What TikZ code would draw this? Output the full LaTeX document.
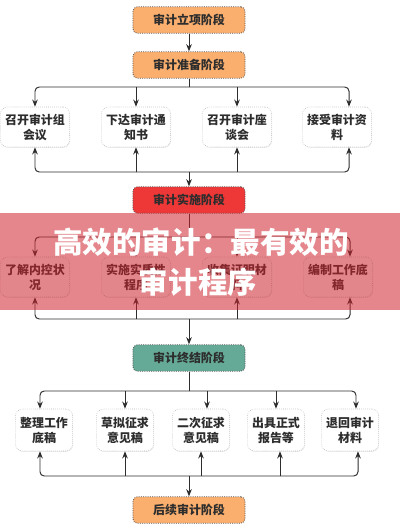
\documentclass[tikz,border=0pt]{standalone}
\usepackage{fontspec}
\newfontfamily\cjk{Noto Sans CJK SC}
\usetikzlibrary{arrows.meta,positioning,shadows,calc}
\definecolor{peach}{RGB}{250,175,110}
\definecolor{scarlet}{RGB}{238,55,55}
\definecolor{jade}{RGB}{100,170,150}
\definecolor{ink}{RGB}{45,45,45}
\definecolor{rose}{RGB}{205,35,45}
\tikzset{
  >={Stealth[length=1.8mm,width=1.4mm]},
  stage/.style={draw=ink!80,densely dotted,fill=#1,rounded corners=3pt,line width=0.6pt,
    minimum width=2.8cm,minimum height=0.66cm,text=ink,
    font=\cjk\bfseries\fontsize{8.5}{10}\selectfont},
  stage/.default=peach,
  item/.style={draw=gray!60,densely dotted,fill=white,rounded corners=5pt,
    minimum width=#1,minimum height=1cm,align=center,text=ink,
    font=\cjk\bfseries\fontsize{8.5}{10.7}\selectfont,
    drop shadow={opacity=0.15,shadow xshift=0.4pt,shadow yshift=-0.6pt}},
  item/.default=1.65cm,
  flow/.style={->,draw=ink,line width=0.7pt},
  bus/.style={draw=ink,line width=0.7pt,rounded corners=3pt},
  headline/.style={text=white,font=\cjk\bfseries\fontsize{21}{24}\selectfont},
}

\begin{document}
\begin{tikzpicture}[x=0.025cm,y=-0.025cm]
  \useasboundingbox (0,0) rectangle (400,525);
  \node[stage] (lx) at (189,20) {审计立项阶段};
  \node[stage] (zb) at (189,65) {审计准备阶段};
  \node[stage=scarlet] (ss) at (189,200) {审计实施阶段};
  \node[stage=jade] (zj) at (189,358) {审计终结阶段};
  \node[stage] (hx) at (189,510) {后续审计阶段};
  % preparation
  \node[item] (p1) at (35,127) {召开审计组\\会议};
  \node[item] (p2) at (136,127) {下达审计通\\知书};
  \node[item] (p3) at (237,127) {召开审计座\\谈会};
  \node[item] (p4) at (337,127) {接受审计资\\料};
  \coordinate (pin) at (189,87);
  \coordinate (pout) at (189,172);
  \draw[flow] (lx) -- (zb);
  \draw[bus] (zb) -- (pin);
  \draw[flow,rounded corners=3pt] (pin) -| (p1.north);
  \draw[flow,rounded corners=3pt] (pin) -| ([xshift=0.3cm]p4.north);
  \draw[flow] (pin -| p2.north) -- (p2.north);
  \draw[flow] (pin -| p3.north) -- (p3.north);
  \draw[flow,rounded corners=3pt] (pout) -| (p1.south);
  \draw[flow,rounded corners=3pt] (pout) -| ([xshift=0.3cm]p4.south);
  \draw[flow] (pout -| p2.south) -- (p2.south);
  \draw[flow] (pout -| p3.south) -- (p3.south);
  \draw[flow] (pout) -- (ss);
  % fieldwork
  \node[item] (f1) at (35,277) {了解内控状\\况};
  \node[item] (f2) at (136,277) {实施实质性\\程序};
  \node[item] (f3) at (237,277) {收集证明材\\料};
  \node[item] (f4) at (338,277) {编制工作底\\稿};
  \coordinate (fin) at (189,237);
  \coordinate (fout) at (189,319);
  \draw[bus] (ss) -- (fin);
  \draw[flow,rounded corners=3pt] (fin) -| (f1.north);
  \draw[flow,rounded corners=3pt] (fin) -| ([xshift=0.3cm]f4.north);
  \draw[flow] (fin -| f2.north) -- (f2.north);
  \draw[flow] (fin -| f3.north) -- (f3.north);
  \draw[flow,rounded corners=3pt] (fout) -| (f1.south);
  \draw[flow,rounded corners=3pt] (fout) -| ([xshift=0.3cm]f4.south);
  \draw[flow] (fout -| f2.south) -- (f2.south);
  \draw[flow] (fout -| f3.south) -- (f3.south);
  \draw[flow] (fout) -- (zj);
  % closing
  \node[item=1.43cm,minimum height=1.05cm] (c1) at (44,430) {整理工作\\底稿};
  \node[item=1.43cm,minimum height=1.05cm] (c2) at (125,430) {草拟征求\\意见稿};
  \node[item=1.43cm,minimum height=1.05cm] (c3) at (201,430) {二次征求\\意见稿};
  \node[item=1.43cm,minimum height=1.05cm] (c4) at (276,430) {出具正式\\报告等};
  \node[item=1.43cm,minimum height=1.05cm] (c5) at (350,430) {退回审计\\材料};
  \coordinate (cin) at (189,391);
  \coordinate (cout) at (189,476);
  \draw[bus] (zj) -- (cin);
  \draw[flow,rounded corners=3pt] (cin) -| ([xshift=-0.1cm]c1.north);
  \draw[flow,rounded corners=3pt] (cin) -| ([xshift=0.15cm]c5.north);
  \draw[flow] (cin -| c2.north) -- (c2.north);
  \draw[flow] ([xshift=0.15cm]cin -| c3.north) -- ([xshift=0.15cm]c3.north);
  \draw[flow] (cin -| c4.north) -- (c4.north);
  \draw[flow,rounded corners=3pt] (cout) -| ([xshift=-0.1cm]c1.south);
  \draw[flow,rounded corners=3pt] (cout) -| ([xshift=0.2cm]c5.south);
  \draw[flow] (cout -| c2.south) -- (c2.south);
  \draw[flow] (cout -| c3.south) -- (c3.south);
  \draw[flow] ([xshift=0.1cm]cout -| c4.south) -- ([xshift=0.1cm]c4.south);
  \draw[flow] (cout) -- (hx);
  % banner
  \fill[rose,opacity=0.55] (0,213) rectangle (400,310);
  \node[headline] (t1) at (201,242) {高效的审计：最有效的};
  \node[headline] (t2) at (198,282) {审计程序};
\end{tikzpicture}
\end{document}
